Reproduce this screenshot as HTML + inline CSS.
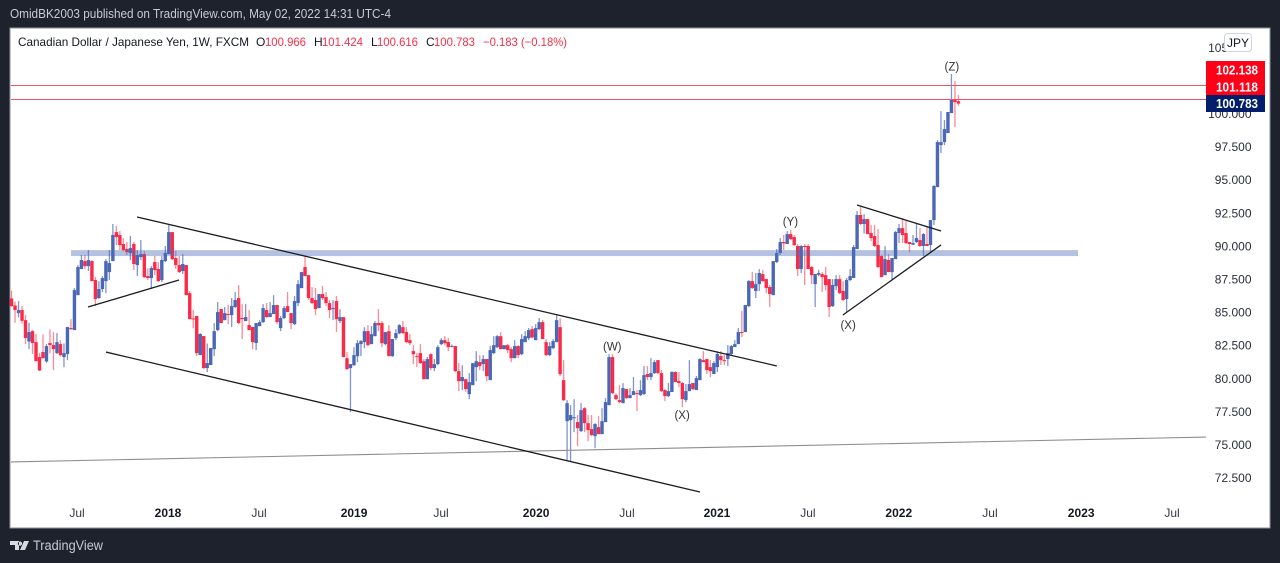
<!DOCTYPE html>
<html lang="en">
<head>
<meta charset="utf-8">
<title>CADJPY weekly chart</title>
<style>
html,body{margin:0;padding:0;background:#1e222d;}
svg{display:block;}
text{font-family:"Liberation Sans",sans-serif;}
</style>
</head>
<body>
<svg id="chart" xmlns="http://www.w3.org/2000/svg" width="1280" height="563" viewBox="0 0 1280 563">
  <rect x="0" y="0" width="1280" height="563" fill="#1e222d"/>
  <text x="10" y="18" font-size="13" fill="#c8cbd3" textLength="381" lengthAdjust="spacingAndGlyphs">OmidBK2003 published on TradingView.com, May 02, 2022 14:31 UTC-4</text>
  <rect x="10" y="28" width="1260" height="500" fill="#ffffff" stroke="#8f929b" stroke-width="1"/>
  <g id="plot"></g>
  <g id="yaxis"></g>
  <g id="xaxis"></g>
  <g font-size="12">
    <text x="18" y="46" fill="#131722" textLength="231" lengthAdjust="spacingAndGlyphs">Canadian Dollar / Japanese Yen, 1W, FXCM</text>
    <text x="256" y="46" fill="#131722">O</text>
    <text x="265" y="46" fill="#f7304a" textLength="41" lengthAdjust="spacingAndGlyphs">100.966</text>
    <text x="314" y="46" fill="#131722">H</text>
    <text x="322" y="46" fill="#f7304a" textLength="41" lengthAdjust="spacingAndGlyphs">101.424</text>
    <text x="371" y="46" fill="#131722">L</text>
    <text x="377" y="46" fill="#f7304a" textLength="41" lengthAdjust="spacingAndGlyphs">100.616</text>
    <text x="426" y="46" fill="#131722">C</text>
    <text x="434" y="46" fill="#f7304a" textLength="41" lengthAdjust="spacingAndGlyphs">100.783</text>
    <text x="483" y="46" fill="#f7304a" textLength="84" lengthAdjust="spacingAndGlyphs">−0.183 (−0.18%)</text>
  </g>
  <g>
    <rect x="1224.5" y="33.5" width="27" height="18" rx="3" fill="#ffffff" stroke="#d1d4dc"/>
    <text x="1238" y="47" font-size="12" fill="#131722" text-anchor="middle">JPY</text>
  </g>
  <g font-size="12.5" font-weight="bold" fill="#ffffff" text-anchor="middle">
    <rect x="1206" y="61" width="59" height="34" fill="#ff0019" stroke="none"/>
    <rect x="1206" y="95" width="59" height="17" fill="#021e6a" stroke="none"/>
    <text x="1237" y="74.5" textLength="42" lengthAdjust="spacingAndGlyphs">102.138</text>
    <text x="1237" y="91.5" textLength="42" lengthAdjust="spacingAndGlyphs">101.118</text>
    <text x="1237" y="108" textLength="42" lengthAdjust="spacingAndGlyphs">100.783</text>
  </g>
  <g>
    <path d="M10 541h9v9h-4v-5h-5z M20 541.5a2.1 2.1 0 1 0 .01 0z M24 541h5l-4 9h-5z" fill="#d8dae0"/>
    <text x="33" y="550" font-size="13.5" fill="#c8cbd3" textLength="70" lengthAdjust="spacingAndGlyphs">TradingView</text>
  </g>
</svg>
<script>
const opens = [
86.07,85.54,84.96,85.19,84.43,82.82,83.60,82.77,81.64,82.02,
81.31,82.70,82.55,81.94,82.62,81.64,81.87,83.83,83.68,86.32,
88.29,88.89,88.51,88.89,87.46,86.10,86.78,87.38,88.06,88.89,
91.08,90.86,90.18,89.80,89.50,90.18,88.59,89.19,89.42,87.76,
87.61,88.82,88.29,87.46,88.89,89.42,91.08,89.12,88.59,88.14,
88.59,86.47,84.56,84.74,81.79,83.23,80.81,81.04,82.24,83.68,
85.27,84.43,84.89,84.81,85.42,86.10,84.59,84.36,84.06,83.91,
82.70,83.98,84.28,85.19,84.66,84.89,85.57,83.83,84.59,85.49,
84.96,84.13,85.72,86.85,88.44,87.83,86.10,85.95,85.34,86.40,
86.17,85.72,85.26,85.87,84.36,84.66,81.56,80.81,81.03,81.71,
82.62,82.77,83.60,82.62,83.22,84.21,84.21,82.62,83.60,81.71,
83.07,83.43,83.90,83.53,82.92,82.09,81.71,81.94,81.33,79.97,
81.86,80.81,81.11,82.62,82.92,82.77,82.42,82.47,80.58,79.82,
79.97,78.84,79.52,80.88,81.26,81.11,81.49,79.90,81.94,82.39,
83.22,82.24,82.54,82.24,81.56,82.47,81.86,82.77,83.07,83.75,
82.92,83.75,84.28,82.77,81.79,82.32,82.77,83.90,79.90,76.80,
76.88,77.05,76.73,76.05,77.78,76.65,76.20,75.67,76.35,75.82,
76.73,78.01,81.64,78.77,78.39,78.16,79.22,78.54,78.77,78.92,
78.77,78.85,80.36,80.13,80.43,81.41,80.43,79.15,78.69,79.00,
80.51,79.83,79.68,78.39,79.07,79.68,79.15,79.90,81.41,81.49,
80.88,80.36,80.88,81.72,81.41,81.49,81.87,82.40,82.62,83.53,
83.53,85.49,87.38,86.63,87.15,87.91,87.53,86.93,86.32,88.82,
89.50,90.33,90.18,90.93,90.70,90.03,88.29,90.03,90.03,88.44,
87.15,87.86,87.91,87.83,87.53,85.49,87.00,87.53,86.63,86.02,
87.46,87.61,89.80,92.37,91.69,92.06,91.01,90.78,90.10,89.27,
87.83,88.97,88.06,89.04,91.01,91.38,91.01,90.33,90.13,90.33,
90.48,90.03,90.18,90.10,91.99,94.48,97.65,97.88,98.56,100.07,
101.13,100.966];
const highs = [
86.65,85.82,85.87,85.49,84.81,84.23,83.68,83.38,81.97,83.35,
82.62,83.73,83.53,83.45,82.92,82.67,83.91,84.51,86.85,88.59,
89.35,89.35,89.72,88.97,87.68,87.38,87.76,89.04,89.72,91.69,
91.54,91.16,90.60,90.33,90.78,90.33,89.72,90.48,89.65,88.34,
88.51,89.27,88.82,89.27,90.03,91.61,91.08,89.65,89.27,89.42,
88.59,86.63,85.19,84.74,83.45,83.23,82.67,82.32,84.21,85.79,
85.27,85.42,85.57,86.10,86.55,87.08,85.64,85.64,85.19,83.91,
84.21,84.43,85.64,85.72,85.79,86.32,85.57,84.74,85.49,86.55,
84.96,86.25,87.46,88.06,89.27,87.83,86.93,86.85,86.40,87.00,
86.55,85.94,85.94,86.25,85.26,84.66,82.01,81.11,82.39,82.92,
82.92,83.90,84.05,83.98,84.36,85.26,84.36,83.53,84.05,83.00,
83.75,84.13,84.36,83.90,83.37,82.54,81.94,82.62,81.49,81.64,
81.94,81.49,82.54,83.07,83.22,83.07,82.59,82.47,81.19,81.03,
79.97,80.43,81.18,82.09,81.79,81.79,81.49,82.47,83.22,83.30,
83.53,82.54,82.62,82.39,82.92,82.54,83.37,83.60,83.83,83.98,
84.13,84.58,84.43,83.00,82.77,83.00,84.81,84.58,81.41,78.39,
78.01,78.46,77.26,78.16,77.86,77.26,77.26,76.65,77.18,77.78,
78.54,81.86,81.86,78.92,79.52,79.67,79.22,79.30,80.13,79.14,
79.90,80.96,80.96,81.56,81.41,81.41,80.66,79.22,79.68,80.58,
80.58,80.51,79.75,79.60,81.41,79.68,80.21,81.56,82.09,81.49,
81.41,81.34,82.09,82.09,81.79,82.55,82.55,82.92,83.83,85.12,
85.57,87.46,88.06,87.99,88.29,88.21,87.53,87.08,88.89,89.80,
90.63,90.86,91.16,91.23,90.86,90.18,90.10,90.18,90.18,88.51,
87.91,88.21,88.06,88.44,87.53,87.53,87.83,87.83,87.38,87.61,
88.29,90.10,92.67,93.05,92.44,92.06,91.61,91.61,91.31,89.35,
90.03,89.42,89.12,91.16,91.69,92.14,91.91,90.33,90.86,91.69,
91.38,91.01,91.54,91.99,94.63,98.03,100.22,99.54,100.15,103.02,
102.49,101.424];
const lows = [
85.44,84.23,84.64,84.18,82.62,82.24,81.87,81.31,80.58,81.51,
81.21,81.92,80.66,81.87,81.67,80.88,81.41,83.68,83.68,86.32,
88.29,88.29,88.14,87.38,85.49,86.02,86.55,86.47,87.46,88.89,
90.10,89.72,89.65,89.35,88.97,88.21,87.76,88.97,87.61,87.46,
86.78,87.83,87.31,87.31,88.82,89.42,88.97,88.29,87.99,87.91,
86.32,84.51,83.83,81.72,81.79,80.73,80.51,81.04,81.72,83.60,
84.21,84.43,84.13,83.91,85.34,84.13,83.00,84.36,83.68,82.24,
82.17,83.98,84.21,84.59,84.66,84.89,84.13,83.60,84.51,85.04,
83.76,84.06,85.49,86.85,87.76,85.95,85.64,84.81,85.34,85.94,
85.49,84.58,84.43,83.53,84.21,81.64,80.66,77.48,80.96,81.26,
81.71,82.32,82.47,82.62,83.22,83.60,82.39,82.54,81.71,81.66,
82.92,83.37,83.37,82.69,82.54,81.11,80.88,81.11,79.97,79.97,
80.65,80.58,81.03,82.54,82.54,82.09,82.39,80.50,79.07,79.14,
79.00,78.46,79.52,79.82,80.65,80.58,79.82,79.90,81.86,82.32,
82.24,82.24,81.94,81.26,81.56,81.56,81.79,82.77,82.92,83.07,
82.92,83.68,83.00,81.71,81.71,82.24,82.77,80.20,78.31,73.86,
73.78,75.97,74.91,75.97,75.97,75.29,75.67,74.76,75.82,75.82,
76.73,78.01,78.84,78.39,78.16,78.16,78.46,78.54,78.77,77.56,
78.69,78.77,79.90,79.90,80.36,80.36,79.00,78.32,78.62,79.00,
79.75,79.37,77.86,78.24,79.07,79.15,79.15,79.90,81.26,80.36,
80.13,80.36,80.51,81.04,81.04,80.96,81.79,82.40,82.62,83.15,
83.53,85.42,86.78,86.10,86.63,87.31,86.47,85.42,86.32,88.74,
89.35,89.72,90.18,90.48,90.03,87.76,87.99,87.08,88.29,87.15,
85.42,87.76,86.55,86.70,84.66,85.42,86.70,86.40,85.87,85.04,
87.38,87.61,89.80,91.61,90.98,90.93,90.40,89.95,88.36,87.68,
87.83,88.06,87.53,89.04,90.25,90.25,90.18,89.57,90.10,90.25,
89.95,89.27,90.03,89.57,91.61,94.48,97.05,97.65,98.56,100.07,
99.01,100.616];
const closes = [
85.49,85.19,85.19,84.38,83.08,83.53,82.70,81.34,80.63,81.56,
82.47,82.55,82.24,82.77,81.79,81.94,83.91,83.78,86.70,88.44,
88.97,88.51,88.97,87.38,86.02,86.78,87.61,88.89,88.74,90.86,
90.71,90.10,89.72,89.57,89.87,88.67,89.35,89.42,87.68,87.61,
88.36,88.21,87.38,88.97,89.50,91.08,89.04,88.59,88.06,88.67,
86.32,84.51,84.51,81.94,83.38,80.81,81.19,82.32,83.60,85.04,
84.21,84.96,84.84,85.49,85.95,84.21,84.51,84.66,83.68,82.77,
84.21,84.28,85.34,84.66,84.96,85.57,84.28,84.59,85.34,85.04,
84.21,85.87,87.15,88.06,87.76,86.10,85.72,85.27,86.40,86.09,
85.72,85.19,85.34,84.51,84.66,81.64,80.73,81.11,81.79,82.69,
82.85,83.60,82.54,83.37,84.21,84.05,82.69,83.53,81.71,83.00,
83.45,84.05,83.45,82.77,82.69,81.86,81.66,81.19,79.97,81.49,
80.81,81.11,82.39,82.92,82.69,82.39,82.47,80.58,79.82,80.13,
79.22,79.75,81.18,81.33,80.96,81.49,80.20,82.17,82.54,83.22,
82.24,82.54,82.17,81.56,82.47,81.79,83.00,83.22,83.68,83.12,
83.83,84.28,83.00,81.79,82.47,82.85,84.43,80.35,78.39,78.16,
77.26,77.10,76.27,77.63,76.65,76.12,75.75,76.58,75.82,76.80,
78.24,81.64,78.92,78.46,78.24,79.30,78.54,78.77,79.07,78.87,
79.15,80.28,80.13,80.43,81.26,80.43,79.07,78.69,79.07,80.51,
79.75,79.68,78.47,79.07,79.60,79.22,80.05,81.49,81.26,80.66,
80.58,81.19,81.87,81.41,81.34,81.94,82.47,82.62,83.53,83.45,
85.57,87.38,86.85,87.15,87.99,87.38,86.85,86.40,88.89,89.50,
90.33,90.23,90.93,90.55,90.10,88.29,90.03,89.95,88.29,87.83,
87.91,87.99,87.68,87.08,85.42,87.08,87.53,86.47,85.95,87.46,
87.76,89.95,92.37,91.69,92.06,90.93,90.63,90.03,88.44,87.68,
89.04,88.06,89.12,91.08,91.38,90.86,90.25,90.18,90.25,90.63,
90.03,90.93,90.03,91.99,94.56,97.88,97.88,98.86,100.15,101.13,
100.90,100.783];

const yTickValues = [105, 100, 97.5, 95, 92.5, 90, 87.5, 85, 82.5, 80, 77.5, 75, 72.5];
const xTickLabels = ["Jul","2018","Jul","2019","Jul","2020","Jul","2021","Jul","2022","Jul","2023","Jul"];
const xTickBars = [18.8,44.85,70.9,98.1,122.98,150.2,176.2,201.97,228.0,254.0,280.1,306.2,332.2];
const priceLines = [102.138, 101.118];
const trendStartBars = [35.98, 27.1, 21.95, 242.05, 238.0];
const trendStartPrices = [92.22, 82.02, 85.42, 93.13, 84.82];
const trendEndBars = [219.1, 197.1, 47.99, 266.1, 266.1];
const trendEndPrices = [80.97, 71.45, 87.46, 91.16, 90.11];
const baseLineBars = [-0.37, 341.9];
const baseLinePrices = [73.72, 75.6];
const zoneBars = [17.1, 305.3];
const zonePrices = [89.72, 89.27];
const waveLabels = ["(W)","(X)","(Y)","(X)","(Z)"];
const waveBars = [172, 192, 223, 239.5, 269.2];
const wavePrices = [82.13, 76.98, 91.58, 83.78, 103.27];

const NS = "http://www.w3.org/2000/svg";
function xOf(bar){ return 11.3 + 3.494 * bar; }
function yOf(price){ return 114 + (100 - price) * 13.24; }
function make(tag, attrs, parent){
  const el = document.createElementNS(NS, tag);
  for (const k in attrs) el.setAttribute(k, attrs[k]);
  parent.appendChild(el);
  return el;
}
const plot = document.getElementById("plot");
const yaxis = document.getElementById("yaxis");
const xaxis = document.getElementById("xaxis");

for (let i = 0; i < opens.length; i++) {
  const up = closes[i] >= opens[i];
  const body = up ? "#4a68b6" : "#fb2a48";
  const wickColor = up ? "#7f95cc" : "#f98a98";
  const cx = xOf(i);
  const g = make("g", {}, plot);
  
  
  const wick = make("rect", {x: cx - 0.4, y: yOf(highs[i]), width: 1.3, height: Math.max(1, yOf(lows[i]) - yOf(highs[i])), fill: wickColor}, g);
  
  
  const top = Math.min(yOf(opens[i]), yOf(closes[i]));
  const h = Math.max(1, Math.abs(yOf(opens[i]) - yOf(closes[i])));
  const rect = make("rect", {x: cx - 1.45, y: top, width: 3.4, height: h, fill: body}, g);
  
  
}

const zone = make("rect", {x: xOf(zoneBars[0]), y: yOf(zonePrices[0]), width: xOf(zoneBars[1]) - xOf(zoneBars[0]), height: yOf(zonePrices[1]) - yOf(zonePrices[0]), fill: "rgba(79,107,182,0.42)"}, plot);



const baseLine = make("line", {x1: 11, y1: yOf(baseLinePrices[0]), x2: xOf(baseLineBars[1]), y2: yOf(baseLinePrices[1]), stroke: "#8d8d8d", "stroke-width": 1.1}, plot);



for (let i = 0; i < priceLines.length; i++) {
  const pl = make("line", {x1: 11, y1: Math.floor(yOf(priceLines[i])) + 0.5, x2: 1206, y2: Math.floor(yOf(priceLines[i])) + 0.5, stroke: "#ee5264", "stroke-width": 1}, plot);
  
  
}

for (let i = 0; i < trendStartBars.length; i++) {
  const tl = make("line", {x1: xOf(trendStartBars[i]), y1: yOf(trendStartPrices[i]), x2: xOf(trendEndBars[i]), y2: yOf(trendEndPrices[i]), stroke: "#1a1c22", "stroke-width": 1.3}, plot);
  
  
}

for (let i = 0; i < waveLabels.length; i++) {
  const t = make("text", {x: xOf(waveBars[i]), y: yOf(wavePrices[i]), "font-size": 11.5, fill: "#333333", "text-anchor": "middle"}, plot);
  t.textContent = waveLabels[i];
  
  
}

for (let i = 0; i < yTickValues.length; i++) {
  const t = make("text", {x: 1251.5, y: yOf(yTickValues[i]) + 4, "font-size": 12, fill: "#2a2e39", "text-anchor": "end"}, yaxis);
  t.textContent = yTickValues[i].toFixed(3);
  
  
}

for (let i = 0; i < xTickLabels.length; i++) {
  const isYear = xTickLabels[i] !== "Jul";
  const t = make("text", {x: xOf(xTickBars[i]), y: 517, "font-size": 12, fill: isYear ? "#131722" : "#333742", "font-weight": isYear ? "bold" : "normal", "text-anchor": "middle"}, xaxis);
  t.textContent = xTickLabels[i];
  
  
}
</script>
</body>
</html>
